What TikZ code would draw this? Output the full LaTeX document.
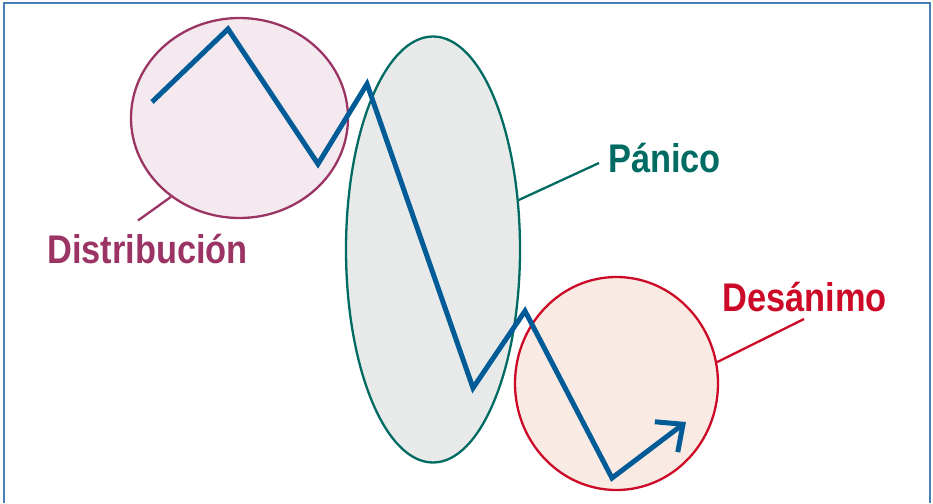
\documentclass[tikz,border=0pt]{standalone}
\usepackage{fontspec}
\setmainfont[FakeStretch=0.86]{Liberation Sans}
\usetikzlibrary{shapes.geometric,arrows.meta}
\definecolor{framec}{HTML}{4A7FB6}
\definecolor{distc}{HTML}{9B3465}
\definecolor{distf}{HTML}{F3E9EE}
\definecolor{panc}{HTML}{006B63}
\definecolor{panf}{HTML}{E8EAEA}
\definecolor{desc}{HTML}{CC0A27}
\definecolor{desf}{HTML}{F9EBE3}
\definecolor{linec}{HTML}{005B97}
\tikzset{
  bubble/.style={ellipse, inner sep=0pt, line width=2.3pt},
  label/.style={anchor=base west, inner sep=0pt, font=\fontsize{40}{40}\selectfont\bfseries},
  leader/.style={line width=2.3pt},
  trend/.style={line width=5pt, color=linec, miter limit=10},
}
\begin{document}
\begin{tikzpicture}[x=1pt,y=-1pt]
\useasboundingbox (0,0) rectangle (933,503);
\draw[framec, line width=2pt] (3.5,503) -- (3.5,3) -- (929.5,3) -- (929.5,503);
% bubbles
\node[bubble, draw=distc, fill=distf, minimum width=217pt, minimum height=200pt] (dist) at (239.5,118) {};
\node[bubble, draw=panc, fill=panf, minimum width=174pt, minimum height=426pt] (pan) at (433,249.5) {};
\node[bubble, draw=desc, fill=desf, minimum width=203pt, minimum height=213pt] (des) at (616.5,383.5) {};
% labels
\node[label, text=distc] (tdist) at (47,263) {Distribución};
\node[label, text=panc] (tpan) at (608,172.5) {Pánico};
\node[label, text=desc] (tdes) at (722,311) {Desánimo};
\coordinate (ldist) at (138,220.5);
\coordinate (lpan) at (599,163);
\coordinate (ldes) at (804,319);
\draw[leader, distc] (dist.229) -- (ldist);
\draw[leader, panc] (pan.30.5) -- (lpan);
\draw[leader, desc] (des.12) -- (ldes);
% trend line
\coordinate (p1) at (152,102);
\coordinate (p2) at (228,29);
\coordinate (p3) at (318,164);
\coordinate (p4) at (367,84);
\coordinate (p5) at (473,388);
\coordinate (p6) at (525,311);
\coordinate (p7) at (612,478);
\coordinate (p8) at (686,422);
\draw[trend, -{Straight Barb[length=21pt,width=38pt]}] (p1) -- (p2) -- (p3) -- (p4) -- (p5) -- (p6) -- (p7) -- (p8);
\end{tikzpicture}
\end{document}
